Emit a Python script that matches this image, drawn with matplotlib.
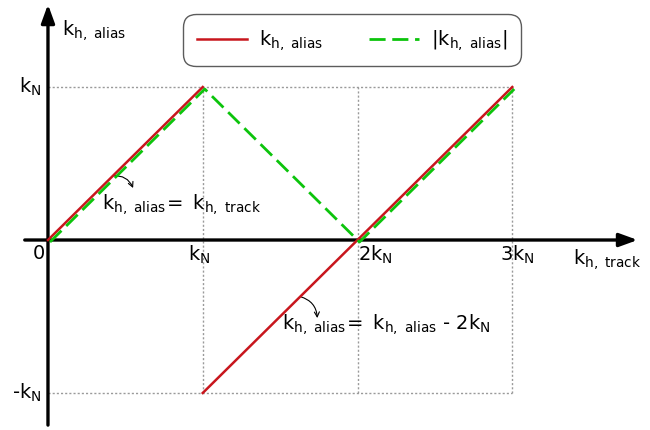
import matplotlib
matplotlib.use("Agg")
import matplotlib.pyplot as plt
import matplotlib.transforms as mtransforms

# Track wavenumber in multiples of the Nyquist wavenumber k_N
k_track = [0, 1, None, 1, 2, 3]
# Aliased wavenumber (signed); the two branches are separate segments
k_alias = [0, 1, None, -1, 0, 1]
# Magnitude of the aliased wavenumber
k_track_abs = [0, 1, 2, 3]
k_alias_abs = [0, 1, 0, 1]

x_ticks = [0, 1, 2, 3]
x_tick_labels = ["0", r"$\mathrm{k_N}$", r"$\mathrm{2k_N}$", r"$\mathrm{3k_N}$"]
y_ticks = [1, -1]
y_tick_labels = [r"$\mathrm{k_N}$", r"-$\mathrm{k_N}$"]

plt.rcParams["mathtext.fontset"] = "dejavusans"

fig = plt.figure(figsize=(6.5, 4.3), dpi=100)
ax = fig.add_axes([0, 0, 1, 1])
ax.set_xlim(-0.31, 3.89)
ax.set_ylim(-1.242, 1.569)
ax.axis("off")

fs = 14

# dotted reference grid
grid_kw = dict(color="#9a9a9a", lw=1.0, ls=(0, (1.5, 1.5)), zorder=1)
for yv in y_ticks:
    ax.plot([0, max(x_ticks)], [yv, yv], **grid_kw)
for xv in x_ticks[1:]:
    ax.plot([xv, xv], [min(y_ticks), max(y_ticks)], **grid_kw)

# axes with arrowheads
arrow_kw = dict(arrowstyle="-|>,head_length=1.1,head_width=0.4", color="black",
                lw=2.4, shrinkA=0, shrinkB=0)
ax.annotate("", xy=(3.81, 0), xytext=(-0.15, 0), arrowprops=arrow_kw, zorder=3)
ax.annotate("", xy=(0, 1.54), xytext=(0, -1.21), arrowprops=arrow_kw, zorder=3)

# curves
red, = ax.plot(k_track, k_alias, color="#c8161d", lw=1.8, zorder=4,
               label=r"$\mathrm{k_{h,\ alias}}$")
off = mtransforms.offset_copy(ax.transData, fig=fig, x=2, y=-2, units="dots")
green, = ax.plot(k_track_abs, k_alias_abs, color="#0cc40c", lw=2.0,
                 ls=(0, (5.8, 2.4)), zorder=5, transform=off,
                 label=r"$\mathrm{|k_{h,\ alias}|}$")

# tick labels (pixel offsets from each tick position)
x_label_dx = [-3, -15, 1, -12]
for xv, lab, dx in zip(x_ticks, x_tick_labels, x_label_dx):
    tr = mtransforms.offset_copy(ax.transData, fig=fig, x=dx, y=-4, units="dots")
    ha = "right" if xv == 0 else "left"
    ax.text(xv, 0, lab, ha=ha, va="top", fontsize=fs, transform=tr)
for yv, lab in zip(y_ticks, y_tick_labels):
    ax.text(-0.04, yv, lab, ha="right", va="center", fontsize=fs)

# axis labels
ax.text(0.09, 1.37, r"$\mathrm{k_{h,\ alias}}$", ha="left", va="center", fontsize=fs)
ax.text(3.39, -0.13, r"$\mathrm{k_{h,\ track}}$", ha="left", va="center", fontsize=fs)

# annotations of the two branches
ann_kw = dict(arrowstyle="->,head_length=0.35,head_width=0.18", color="black",
              lw=0.8, connectionstyle="arc3,rad=-0.35", shrinkA=0, shrinkB=0)
ax.annotate("", xy=(0.55, 0.34), xytext=(0.42, 0.42), arrowprops=ann_kw)
ax.text(0.35, 0.23, r"$\mathrm{k_{h,\ alias}\!=\ k_{h,\ track}}$", ha="left",
        va="center", fontsize=fs)
ax.annotate("", xy=(1.74, -0.51), xytext=(1.63, -0.37), arrowprops=ann_kw)
ax.text(1.51, -0.55, r"$\mathrm{k_{h,\ alias}\!=\ k_{h,\ alias}}$ - $\mathrm{2k_N}$",
        ha="left", va="center", fontsize=fs)

leg = ax.legend(handles=[red, green], loc="upper left", bbox_to_anchor=(0.2815, 0.967),
                ncol=2, fontsize=fs, frameon=True, fancybox=True, handlelength=2.6,
                columnspacing=2.35, borderpad=0.7, handletextpad=0.6,
                borderaxespad=0)
frame = leg.get_frame()
frame.set_edgecolor("#333333")
frame.set_linewidth(1.0)
frame.set_boxstyle("round,pad=0,rounding_size=0.65")

fig.savefig("out.png", dpi=100, facecolor="white")
